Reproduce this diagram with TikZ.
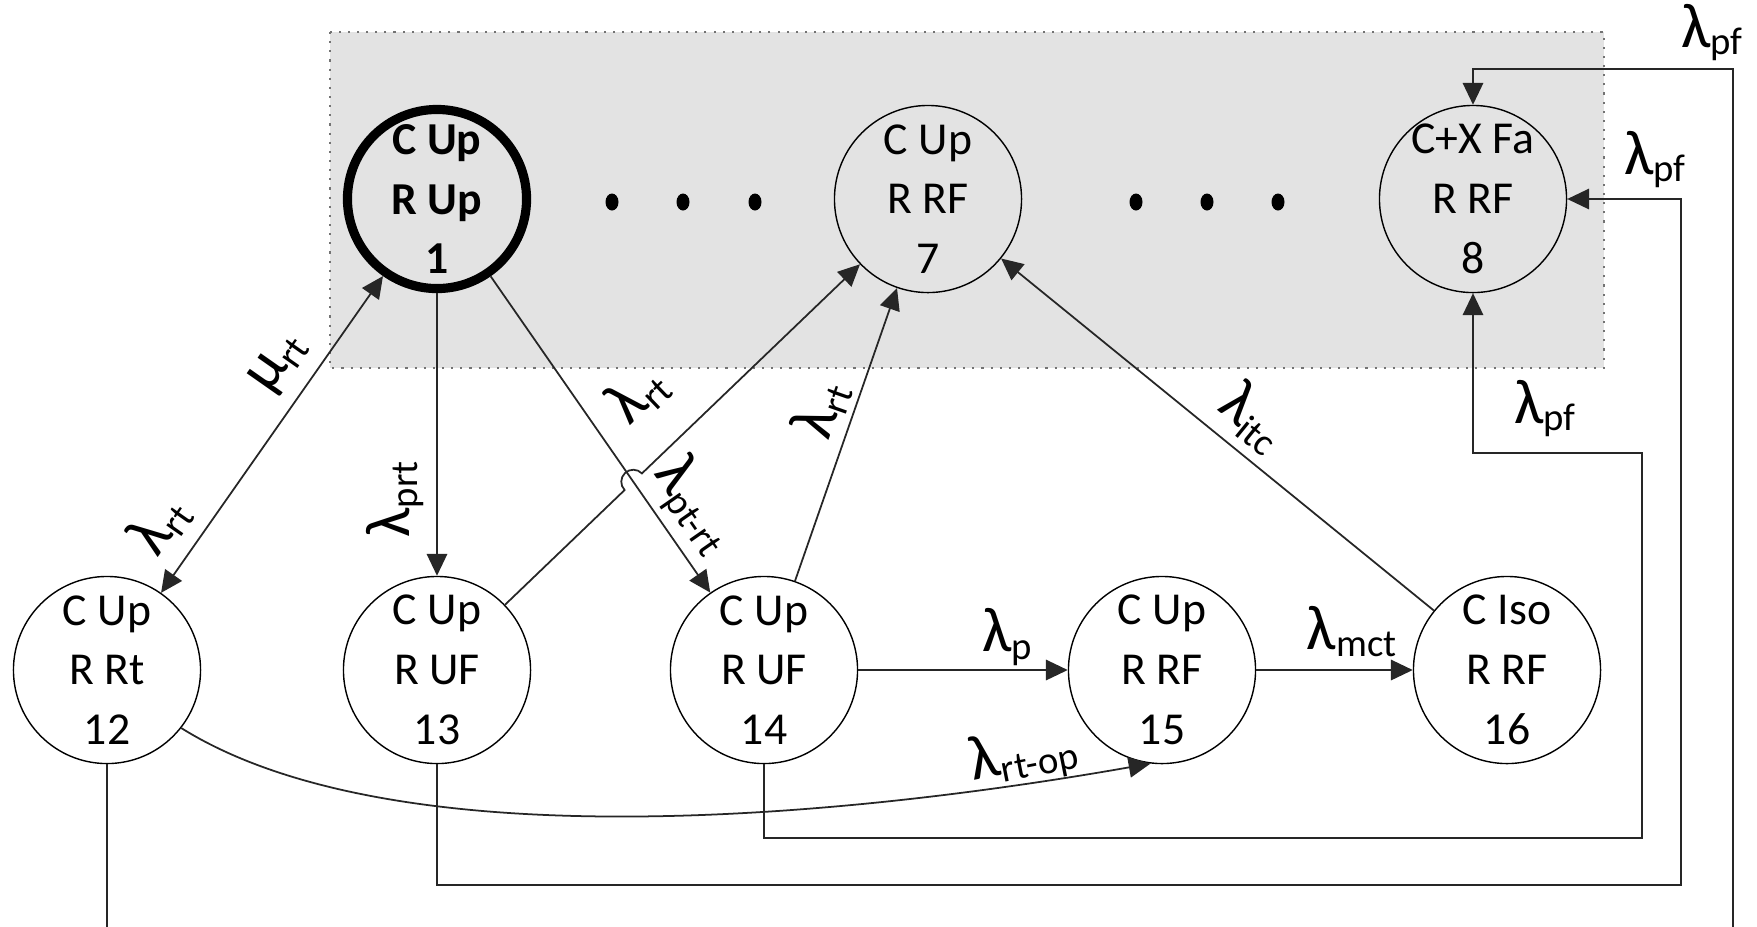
\documentclass[tikz,border=0pt]{standalone}
\usepackage{fontspec}
\setmainfont{Carlito}
\usetikzlibrary{arrows.meta,calc,intersections}
\newcommand{\rate}[2]{{\fontsize{18}{18}\selectfont #1}\raisebox{-2.2pt}{\fontsize{11}{11}\selectfont #2}}
\tikzset{
  >={Triangle[length=6.2pt,width=5.8pt]},
  state/.style={circle,draw=black,line width=0.4pt,minimum size=1.87cm,inner sep=-2mm,
    align=center,font=\fontsize{13}{17}\selectfont},
  start state/.style={state,line width=2.6pt,minimum size=1.79cm,
    font=\fontsize{13}{17}\selectfont\bfseries},
  trans/.style={draw=black!85,line width=0.5pt},
  rate/.style={inner sep=1pt},
  stateframe/.style={fill=black!11,draw=black!55,dotted,line width=0.6pt},
}

\begin{document}
\begin{tikzpicture}[x=0.01cm,y=0.01cm]
  \fill[white] (0,0) rectangle (1757,-926);
  \useasboundingbox (0,0) rectangle (1757,-926);
  \clip (0,0) rectangle (1757,-926);
  % states kept in the frame
  \draw[stateframe] (330,-32) rectangle (1604,-368);
  \node[start state] (s1) at (437,-199) {C Up\\R Up\\1};
  \node[state] (s7) at (928,-199) {C Up\\R RF\\7};
  \node[state] (s8) at (1473,-199) {C+X Fa\\R RF\\8};
  \foreach \x in {612,683,755,1136,1207,1278}
    \fill (\x,-202) ellipse [x radius=0.065cm,y radius=0.085cm];
  % lower row
  \foreach \n/\x/\cst/\rst in {12/107/C Up/R Rt,13/437/C Up/R UF,14/764/C Up/R UF,15/1162/C Up/R RF,16/1507/C Iso/R RF}
    \node[state] (s\n) at (\x,-670) {\cst\\\rst\\\n};

  \draw[trans,<->] (s12) -- (s1)
    node[rate,sloped,above=0.1cm,pos=0.14] {\rate{λ}{rt}}
    node[rate,sloped,above=0.1cm,pos=0.66] {\rate{μ}{rt}};
  \draw[trans,<-] (s13) -- (s1) node[rate,sloped,above=0.09cm,pos=0.27] {\rate{λ}{prt}};
  \draw[trans,->] (s1) -- (s14) node[rate,sloped,above=0.03cm,pos=0.79] {\rate{λ}{pt-rt}};
  \path[name path=ab] (s1) -- (s14);
  \path[name path=cd] (s13) -- (s7);
  \path[name intersections={of=ab and cd,by=hop}];
  \draw[trans,->] (s13) -- ($(hop)!0.12cm!(s13)$) arc[start angle=223.8,end angle=43.8,radius=0.12cm]
    -- (s7) node[rate,sloped,above=0.3cm,pos=0.17] {\rate{λ}{rt}};
  \draw[trans,->] (s14) -- (s7) node[rate,sloped,above=0.02cm,pos=0.55] {\rate{λ}{rt}};
  \draw[trans,->] (s16) -- (s7) node[rate,sloped,above=0.06cm,pos=0.47] {\rate{λ}{itc}};
  \draw[trans,->] (s14) -- (s15) node[rate,above=0cm,pos=0.71] {\rate{λ}{p}};
  \draw[trans,->] (s15) -- (s16) node[rate,above=0.085cm,pos=0.61] {\rate{λ}{mct}};
  \draw[trans,->] (s12.-38) to[out=-32,in=190,looseness=0.7]
    node[rate,sloped,above=-0.05cm,pos=0.86,rotate=3] {\rate{λ}{rt-op}} (s15.-97);

  % failure routes into state 8
  \draw[trans,->] (s14.south) |- (1642,-838) -- (1642,-453)
    node[rate,above=0.115cm,xshift=-0.97cm] {\rate{λ}{pf}} -| (s8.south);
  \draw[trans,->] (s13.south) |- (1681,-885) -- (1681,-199)
    node[rate,above=0.065cm,xshift=-0.26cm] {\rate{λ}{pf}} -- (s8.east);
  \draw[trans,->] (s12.south) |- (1733,-960) -- (1733,-69)
    node[rate,above=0.035cm,xshift=-0.21cm] {\rate{λ}{pf}} -| (s8.north);
\end{tikzpicture}
\end{document}
